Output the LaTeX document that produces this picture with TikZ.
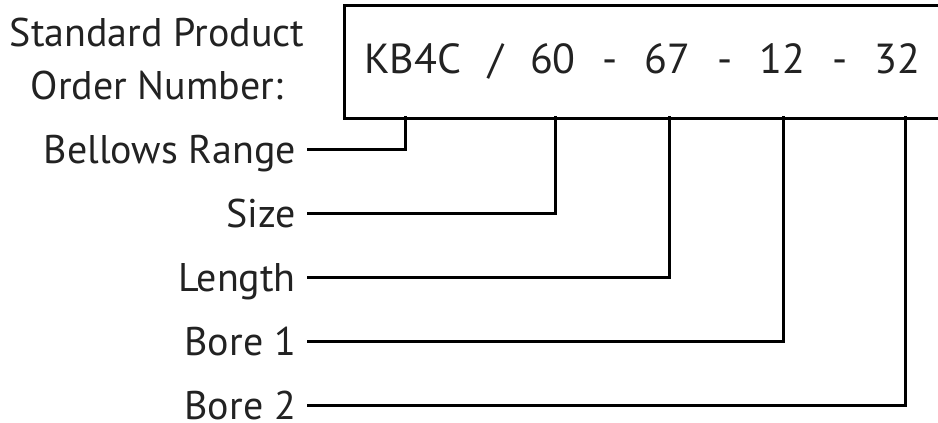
\documentclass[tikz,border=0pt]{standalone}
\usepackage{fontspec}
\setmainfont{PT Sans}
\definecolor{txt}{HTML}{222222}
\begin{document}
\begin{tikzpicture}[x=1pt,y=1pt,
  lbl/.style={anchor=east,inner xsep=12pt,inner ysep=0pt,text height=28pt,text depth=0pt,
    font=\fontsize{40}{53}\selectfont,text=txt},
  conn/.style={line width=3pt,line join=miter,line cap=rect},
  codebox/.style={draw,line width=3pt,anchor=north west,minimum width=700pt,minimum height=113pt,inner sep=0pt}]
\useasboundingbox (0,0) rectangle (938,-423);
\clip (0,0) rectangle (938,-423);
\node[align=center,font=\fontsize{40}{53}\selectfont,text=txt,inner sep=0pt,anchor=base] (title) at (157,-99) {Standard Product\\Order Number:};
\node[codebox] (box) at (343,-4) {};
\node[anchor=base west,inner sep=0pt,font=\fontsize{42}{48}\selectfont,text=txt] (code) at (364,-73)
  {KB4C\hspace{27pt}/\hspace{27pt}60\hspace{27pt}-\hspace{27pt}67\hspace{27pt}-\hspace{27pt}12\hspace{27pt}-\hspace{27pt}32};
\coordinate (t1) at (405,-117);
\coordinate (t2) at (555,-117);
\coordinate (t3) at (669,-117);
\coordinate (t4) at (783,-117);
\coordinate (t5) at (905,-117);
\node[lbl] (l1) at (308,-149) {Bellows Range};
\node[lbl] (l2) at (308,-213) {Size};
\node[lbl] (l3) at (308,-277) {Length};
\node[lbl] (l4) at (308,-341) {Bore 1};
\node[lbl] (l5) at (308,-405) {Bore 2};
\draw[conn] (l1.east) -| (t1);
\draw[conn] (l2.east) -| (t2);
\draw[conn] (l3.east) -| (t3);
\draw[conn] (l4.east) -| (t4);
\draw[conn] (l5.east) -| (t5);
\end{tikzpicture}
\end{document}
